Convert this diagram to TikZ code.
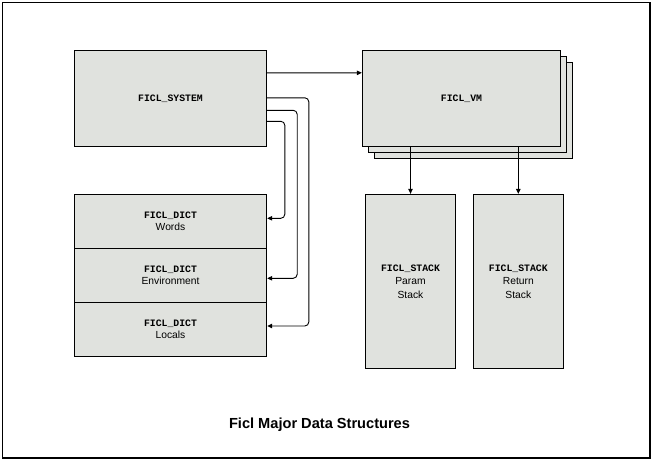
\documentclass[tikz,border=0pt]{standalone}
\usepackage{fontspec}
\setmainfont{Liberation Sans}
\newfontfamily\monob{Liberation Mono}
\usetikzlibrary{arrows.meta}
\definecolor{boxgray}{RGB}{224,226,222}
\tikzset{
  box/.style={draw=black, fill=boxgray, line width=0.9pt, inner sep=0pt, align=center, font=\fontsize{10.3}{12.5}\selectfont},
  arr/.style={line width=0.9pt, -{Triangle[length=5pt,width=4.5pt]}},
  link/.style={arr, rounded corners=4pt},
}
\newcommand{\mono}[1]{{\monob\bfseries\fontsize{9.8}{12}\selectfont #1}}
\begin{document}
\begin{tikzpicture}[x=1pt,y=-1pt]
\useasboundingbox (0,0) rectangle (652,460);
\draw[line width=1.3pt] (2.5,2.5) rectangle (650,458);

% FICL_SYSTEM
\node[box, minimum width=192.5pt, minimum height=95.5pt] (sys) at (170.5,98.5) {\mono{FICL\_SYSTEM}};

% dictionaries
\node[box, minimum width=192.5pt, minimum height=54pt] (words) at (170.5,221.3) {\mono{FICL\_DICT}\\Words};
\node[box, minimum width=192.5pt, minimum height=54pt] (env) at (170.5,275.3) {\mono{FICL\_DICT}\\Environment};
\node[box, minimum width=192.5pt, minimum height=54pt] (loc) at (170.5,329.3) {\mono{FICL\_DICT}\\Locals};

% FICL_VM with stacked copies
\node[box, minimum width=198.4pt, minimum height=96.4pt] (vm3) at (473.5,110.5) {};
\node[box, minimum width=198.4pt, minimum height=96.4pt] (vm2) at (467.5,104.5) {};
\node[box, minimum width=198.4pt, minimum height=96.4pt] (vm) at (461.5,98.5) {\mono{FICL\_VM}};

% stacks
\node[box, minimum width=90.4pt, minimum height=174pt, font=\fontsize{10.3}{13.5}\selectfont] (param) at (410.5,281.3) {\mono{FICL\_STACK}\\Param\\Stack};
\node[box, minimum width=90pt, minimum height=174pt, font=\fontsize{10.3}{13.5}\selectfont] (ret) at (518.3,281.3) {\mono{FICL\_STACK}\\Return\\Stack};

% connectors
\draw[arr] ([yshift=-22.5pt]sys.north east) -- ([yshift=-23pt]vm.north west);
\draw[link] ([yshift=-71pt]sys.north east) -| ([xshift=17.6pt,yshift=3pt]words.east) -- ([yshift=3pt]words.east);
\draw[link] ([yshift=-60pt]sys.north east) -| ([xshift=30pt,yshift=-3pt]env.east) -- ([yshift=-3pt]env.east);
\draw[link] ([yshift=-47.5pt]sys.north east) -| ([xshift=41.6pt,yshift=3.3pt]loc.east) -- ([yshift=3.3pt]loc.east);
\draw[arr] (param.north |- vm.south) -- (param.north);
\draw[arr] (ret.north |- vm.south) -- (ret.north);

% title
\node[font=\bfseries\fontsize{14.6}{17}\selectfont] (title) at (319.5,425) {Ficl Major Data Structures};
\end{tikzpicture}
\end{document}
